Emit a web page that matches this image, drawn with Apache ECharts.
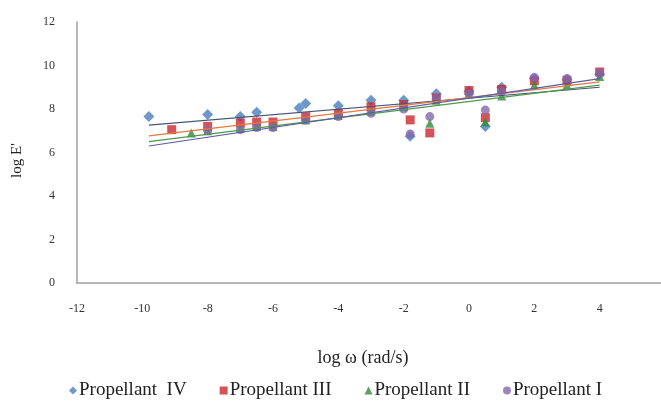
<!DOCTYPE html>
<html>
<head>
<meta charset="utf-8">
<script src="https://cdn.jsdelivr.net/npm/echarts@6/dist/echarts.min.js"></script>
<style>
  html, body { margin: 0; padding: 0; background: #fff; }
  #chart { width: 661px; height: 406px; }
</style>
</head>
<body>
<div id="chart"></div>
<script>
// log w (rad/s) vs log E' for the four propellants
const p4X = [-9.8, -8, -7, -6.5, -5.2, -5, -4, -3, -2, -1.8, -1, 0, 0.5, 1, 2, 3, 4];
const p4Y = [7.65, 7.75, 7.65, 7.85, 8.05, 8.25, 8.15, 8.4, 8.4, 6.75, 8.7, 8.8, 7.2, 9.0, 9.4, 9.35, 9.6];

const p3X = [-9.1, -8, -7, -6.5, -6, -5, -4, -3, -2, -1.8, -1.2, -1, 0, 0.5, 1, 2, 3, 4];
const p3Y = [7.05, 7.2, 7.35, 7.4, 7.4, 7.65, 7.8, 8.1, 8.2, 7.5, 6.9, 8.5, 8.85, 7.6, 8.9, 9.3, 9.3, 9.7];

const p2X = [-8.5, -8, -7, -6.5, -6, -5, -4, -3, -2, -1.2, -1, 0, 0.5, 1, 2, 3, 4];
const p2Y = [6.9, 7.0, 7.1, 7.2, 7.2, 7.5, 7.7, 7.9, 8.1, 7.35, 8.4, 8.7, 7.4, 8.6, 9.1, 9.1, 9.5];

const p1X = [-8, -7, -6.5, -6, -5, -4, -3, -2, -1.8, -1.2, -1, 0, 0.5, 1, 2, 3, 4];
const p1Y = [7.0, 7.05, 7.15, 7.15, 7.5, 7.65, 7.8, 8.0, 6.85, 7.65, 8.5, 8.7, 7.95, 8.8, 9.45, 9.4, 9.65];

// linear trendlines, end points
const trendX = [-9.8, 4];
const trend4 = [7.26, 9.0];
const trend3 = [6.76, 9.25];
const trend2 = [6.5, 9.1];
const trend1 = [6.3, 9.4];

const names = ['Propellant  IV', 'Propellant III', 'Propellant II', 'Propellant I'];

function pairs(xs, ys) {
    return xs.map((x, i) => [x, ys[i]]);
}

const serif = 'Liberation Serif';

const chart = echarts.init(document.getElementById('chart'));
chart.setOption({
    animation: false,
    grid: {
        left: 77, top: 22, width: 588, height: 261,
        containLabel: false, outerBoundsMode: 'none',
    },
    xAxis: {
        type: 'value',
        min: -12, max: 6, interval: 2,
        name: 'log ω (rad/s)',
        nameLocation: 'middle',
        nameGap: 66,
        nameTextStyle: { fontFamily: serif, fontSize: 18, color: '#222', padding: [0, 16, 0, 0] },
        axisLine: { lineStyle: { color: '#a0a0a0', width: 1.5 } },
        axisTick: { show: false },
        splitLine: { show: false },
        axisLabel: { fontFamily: serif, fontSize: 12, color: '#333', margin: 20, showMaxLabel: true },
    },
    yAxis: {
        type: 'value',
        min: 0, max: 12, interval: 2,
        name: "log E'",
        nameLocation: 'middle',
        nameGap: 52,
        nameTextStyle: { fontFamily: serif, fontSize: 15, color: '#222', padding: [0, 16, 0, 0] },
        axisLine: { show: true, onZero: false, lineStyle: { color: '#a0a0a0', width: 1.5 } },
        axisTick: { show: false },
        splitLine: { show: false },
        axisLabel: { fontFamily: serif, fontSize: 12, color: '#333', margin: 22 },
    },
    legend: {
        data: names,
        bottom: 1,
        left: 64,
        itemGap: 33,
        itemWidth: 8,
        itemHeight: 8,
        textStyle: { fontFamily: serif, fontSize: 19, color: '#222', padding: [0, 0, 0, -3] },
    },
    series: [
        {
            name: names[0], type: 'scatter', symbol: 'diamond', symbolSize: 11,
            itemStyle: { color: '#4a7ebb' }, data: pairs(p4X, p4Y), z: 3,
        },
        {
            name: names[1], type: 'scatter', symbol: 'rect', symbolSize: 9,
            itemStyle: { color: '#c8282e' }, data: pairs(p3X, p3Y), z: 4,
        },
        {
            name: names[2], type: 'scatter', symbol: 'triangle', symbolSize: 9,
            itemStyle: { color: '#2e8b3a' }, data: pairs(p2X, p2Y), z: 5,
        },
        {
            name: names[3], type: 'scatter', symbol: 'circle', symbolSize: 9,
            itemStyle: { color: '#8466ad' }, data: pairs(p1X, p1Y), z: 6,
        },
        {
            name: 'trend IV', type: 'line', symbol: 'none', silent: true, z: 7,
            lineStyle: { color: '#46557a', width: 1.2 }, data: pairs(trendX, trend4),
        },
        {
            name: 'trend III', type: 'line', symbol: 'none', silent: true, z: 7,
            lineStyle: { color: '#e5773f', width: 1.2 }, data: pairs(trendX, trend3),
        },
        {
            name: 'trend II', type: 'line', symbol: 'none', silent: true, z: 7,
            lineStyle: { color: '#4c9a4c', width: 1.2 }, data: pairs(trendX, trend2),
        },
        {
            name: 'trend I', type: 'line', symbol: 'none', silent: true, z: 7,
            lineStyle: { color: '#5b5ca6', width: 1.2 }, data: pairs(trendX, trend1),
        },
    ],
});
</script>
</body>
</html>
